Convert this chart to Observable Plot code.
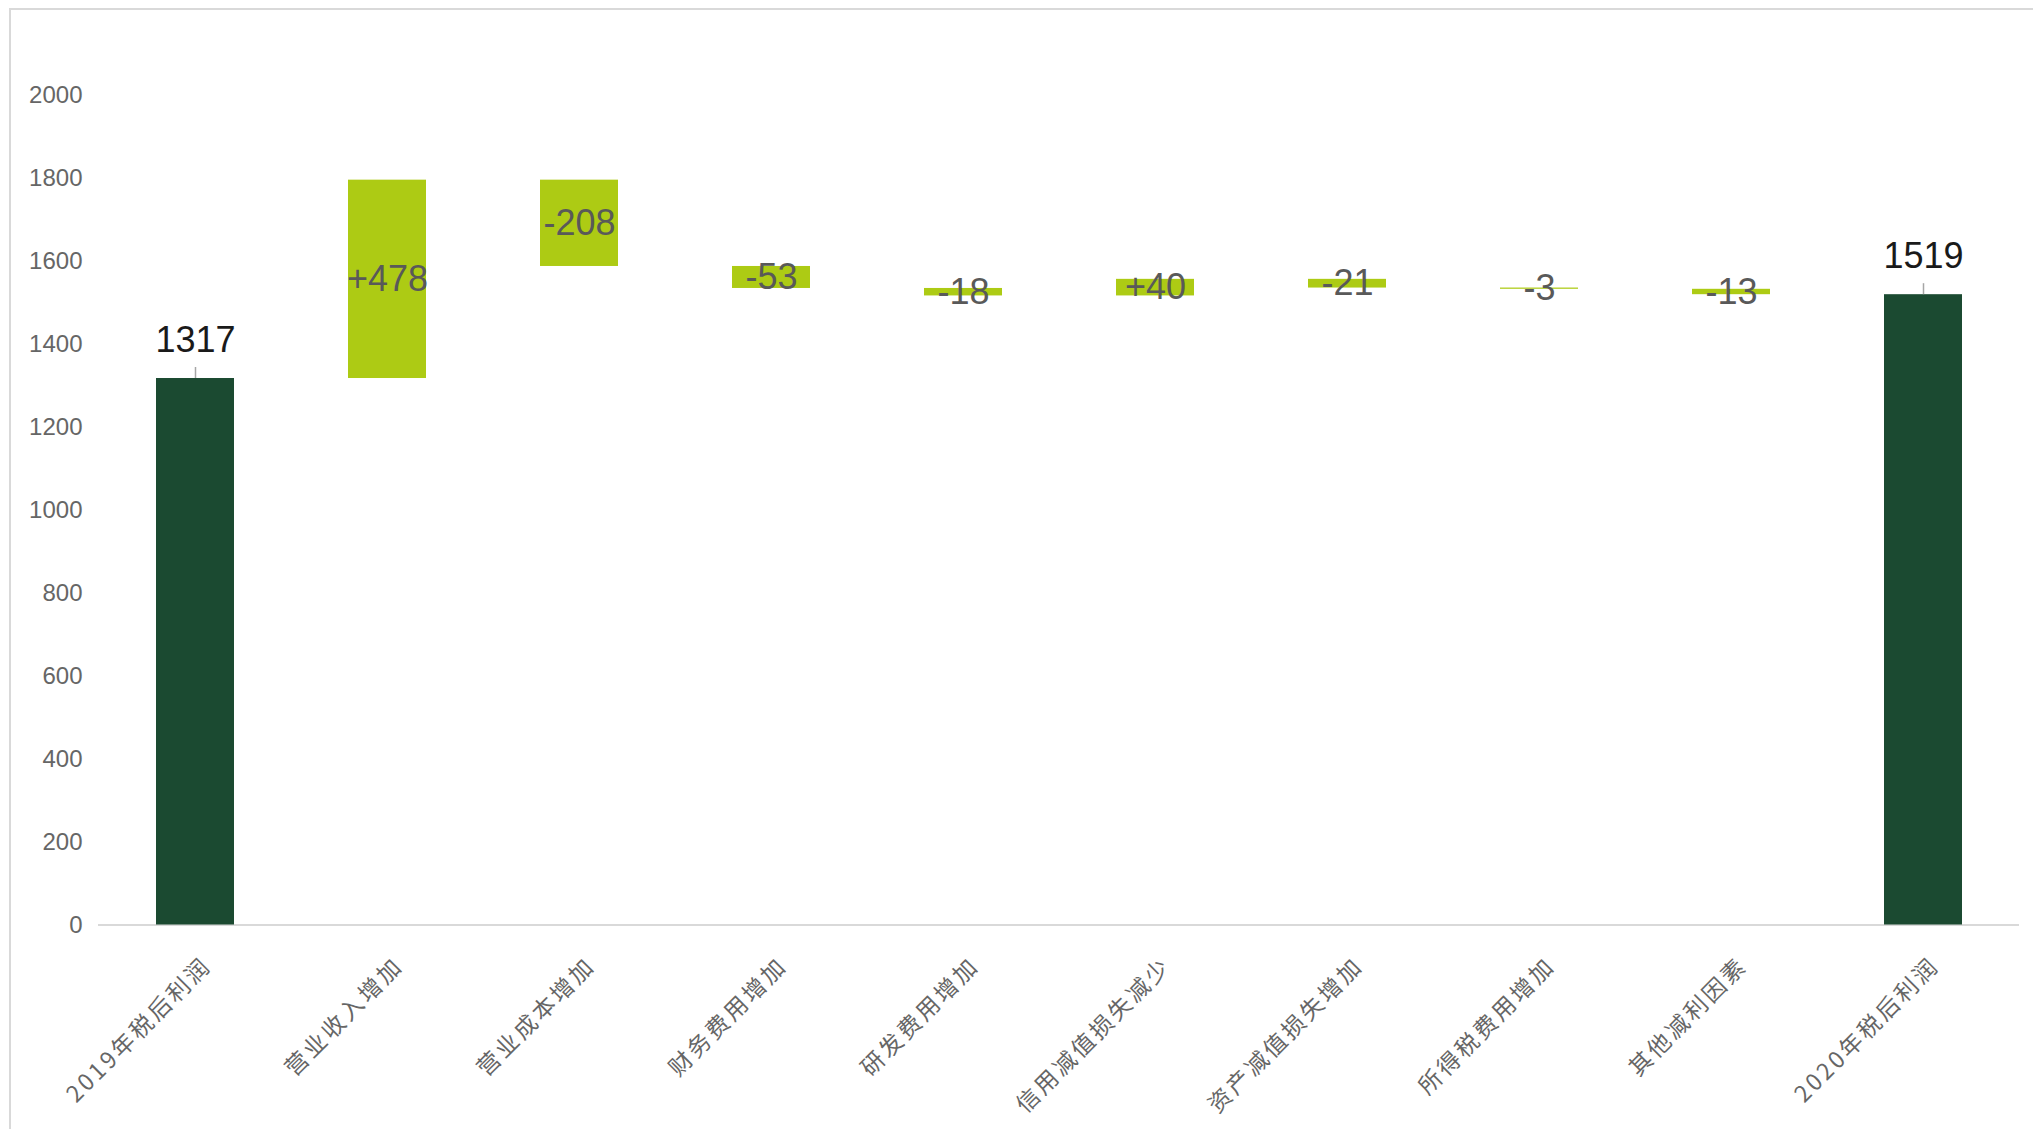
<!DOCTYPE html>
<html>
<head>
<meta charset="utf-8">
<script src="https://cdn.jsdelivr.net/npm/d3@7"></script>
<script src="https://cdn.jsdelivr.net/npm/@observablehq/plot@0.6"></script>
<style>
  html, body { margin: 0; padding: 0; background: #fff; overflow: hidden; }
  #wrap { position: relative; width: 2033px; height: 1129px; }
  #frame { position: absolute; left: 9px; top: 8px; width: 2100px; height: 1200px;
           border-left: 2px solid #d9d9d9; border-top: 2px solid #d9d9d9; box-sizing: border-box; }
  #chart { position: absolute; left: 0; top: 0; }
</style>
</head>
<body>
<div id="wrap"><div id="frame"></div><div id="chart"></div></div>
<script>
const categories = ["2019年税后利润", "营业收入增加", "营业成本增加", "财务费用增加", "研发费用增加",
                    "信用减值损失减少", "资产减值损失增加", "所得税费用增加", "其他减利因素", "2020年税后利润"];
const values = [1317, 478, -208, -53, -18, 40, -21, -3, -13, 1519];
const isTotal = [true, false, false, false, false, false, false, false, false, true];
const yTicks = [0, 200, 400, 600, 800, 1000, 1200, 1400, 1600, 1800, 2000];

// build waterfall rows
let running = 0;
const rows = categories.map((c, i) => {
  let start, end;
  if (isTotal[i]) { start = 0; end = values[i]; running = values[i]; }
  else { start = running; end = running + values[i]; running = end; }
  const v = values[i];
  return {
    cat: c, start, end, total: isTotal[i], value: v,
    mid: (start + end) / 2,
    label: isTotal[i] ? String(v) : (v > 0 ? "+" + v : String(v))
  };
});
const totals = rows.filter(d => d.total);
const deltas = rows.filter(d => !d.total);

const font = "Liberation Sans, Arial, Helvetica, sans-serif";

const chart = Plot.plot({
  width: 2033,
  height: 1129,
  marginLeft: 98,
  marginRight: 14,
  marginTop: 94.6,
  marginBottom: 204.5,
  style: { fontFamily: font, background: "transparent" },
  x: { domain: categories, paddingInner: 0.595, paddingOuter: 0.2975, align: 0.5, axis: null },
  y: { domain: [0, 2000] },
  marks: [
    Plot.ruleY([0], { stroke: "#d9d9d9", strokeWidth: 2 }),
    Plot.axisY({ ticks: yTicks, tickSize: 0, tickPadding: 16, tickFormat: d => String(d),
                 fontSize: 24, fill: "#666666", label: null, fontFamily: font }),
    Plot.barY(rows, { x: "cat", y1: "start", y2: "end",
                      fill: d => d.total ? "#1b4a31" : "#adcb14" }),
    Plot.ruleX(totals, { x: "cat", y1: "end", y2: "end", insetTop: 0, insetBottom: 11,
                         stroke: "#a6a6a6", strokeWidth: 1.5 }),
    Plot.text(totals, { x: "cat", y: "end", text: "label", dy: -38, fontSize: 36,
                        fill: "#1a1a1a", fontFamily: font }),
    Plot.text(deltas, { x: "cat", y: "mid", text: "label", fontSize: 36,
                        fill: "#595959", fontFamily: font }),
    Plot.text(rows, { x: "cat", y: 0, text: "cat", rotate: -45, textAnchor: "end",
                      lineAnchor: "middle", dx: 12, dy: 37, fontSize: 23,
                      fill: "#666666", fontFamily: "Noto Sans CJK SC, sans-serif" })
  ]
});
// widen the spacing of the category labels, as in the reference
d3.select(chart).selectAll("text")
  .filter(function () { return categories.includes(this.textContent); })
  .attr("letter-spacing", "3px");
document.getElementById("chart").appendChild(chart);
</script>
</body>
</html>
